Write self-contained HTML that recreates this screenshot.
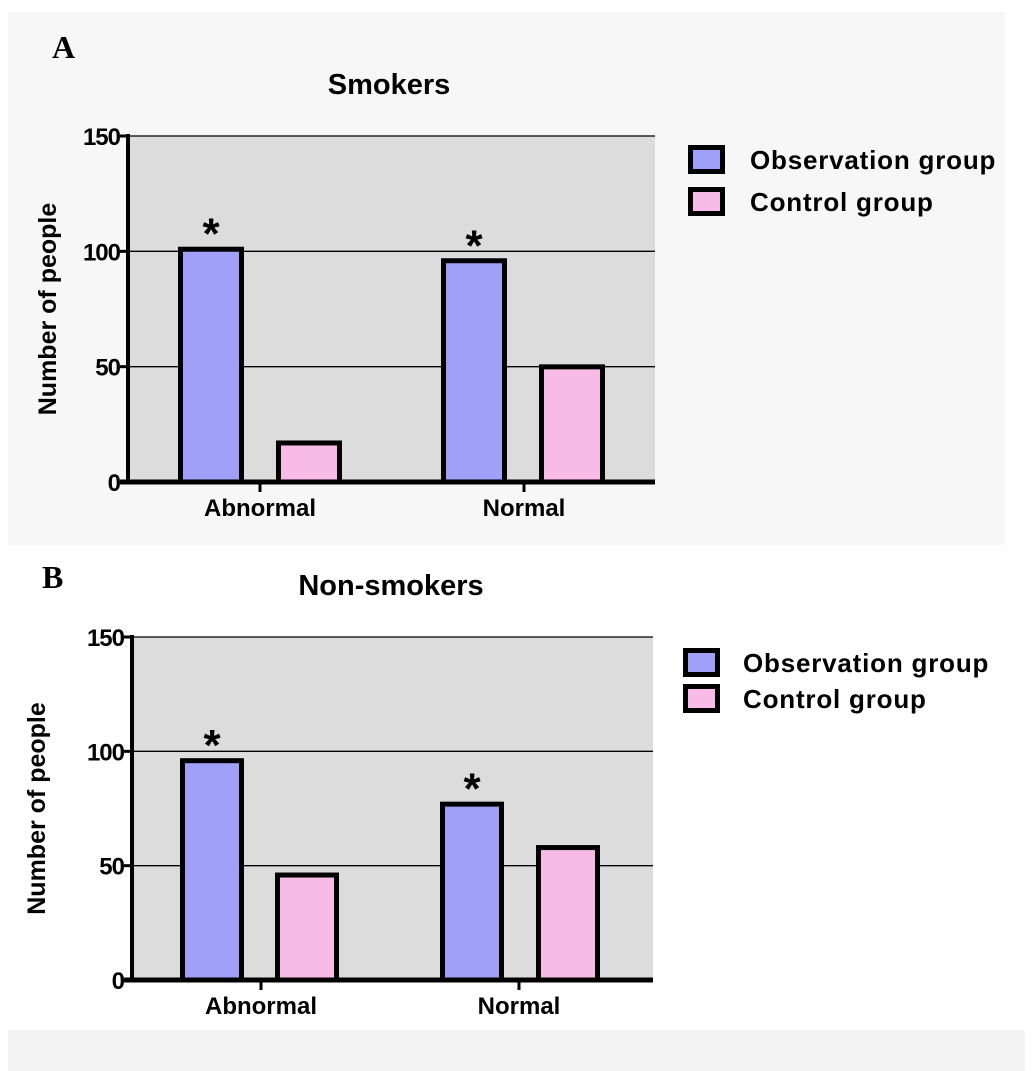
<!DOCTYPE html>
<html><head><meta charset="utf-8"><style>
html,body{margin:0;padding:0;background:#fff;}
svg{display:block;font-family:"Liberation Sans",Arial,sans-serif;}
</style></head><body>
<svg id="fig" width="1033" height="1071" viewBox="0 0 1033 1071" xmlns="http://www.w3.org/2000/svg">
<rect x="0" y="0" width="1033" height="1071" fill="#fff"/>
<rect x="8" y="12" width="997" height="533" fill="#f7f7f7"/>
<rect x="8" y="548" width="997" height="482" fill="#fff"/>
<rect x="8" y="1030" width="1017" height="41" fill="#f4f4f4"/>
<g id="chartA"></g>
<g id="chartB"></g>
</svg>
<script>
const categories = ["Abnormal", "Normal"];
const seriesNames = ["Observation group", "Control group"];
const smokersObservation = [102, 97];
const smokersControl = [18, 51];
const nonSmokersObservation = [97, 78];
const nonSmokersControl = [47, 59];
const yTicks = [0, 50, 100, 150];
const significant = [true, true];

const NS = "http://www.w3.org/2000/svg";
function mk(parent, tag, attrs, text) {
  const e = document.createElementNS(NS, tag);
  for (const k in attrs) e.setAttribute(k, attrs[k]);
  if (text !== undefined) e.textContent = text;
  parent.appendChild(e);
  return e;
}

function drawPanel(g, cfg, obs, ctrl) {
  const yMax = 150;
  const y = v => cfg.y0 - (v / yMax) * (cfg.y0 - cfg.yTop);
  const bg = mk(g, "rect", {x: cfg.xAxis, y: cfg.yTop, width: cfg.xRight - cfg.xAxis, height: cfg.y0 - cfg.yTop, fill: "#dcdcdc"});
  
  
  yTicks.forEach(t => {
    if (t === 0) return;
    const gl = mk(g, "line", {x1: cfg.xAxis, x2: cfg.xRight, y1: y(t), y2: y(t), stroke: "#000", "stroke-width": 1.3});
    
    
  });
  const seriesVals = [obs, ctrl];
  const colors = ["#a0a0f8", "#f8bbe8"];
  categories.forEach((c, ci) => {
    seriesVals.forEach((vals, si) => {
      const bx = cfg.barX[ci][si];
      const r = mk(g, "rect", {x: bx + 2.5, y: y(vals[ci]) + 2.5, width: cfg.barW - 5, height: cfg.y0 - y(vals[ci]) - 2.5, fill: colors[si], stroke: "#000", "stroke-width": 5});
      
      
    });
    if (significant[ci]) {
      const bx = cfg.barX[ci][0];
      const s = mk(g, "text", {x: bx + cfg.barW / 2, y: y(obs[ci]) + 2, "text-anchor": "middle", "font-size": 44, "font-weight": "bold"}, "*");
      
      
    }
    const cx = cfg.catX[ci];
    mk(g, "line", {x1: cx, x2: cx, y1: cfg.y0, y2: cfg.y0 + 10, stroke: "#000", "stroke-width": 3});
    const lab = mk(g, "text", {x: cx, y: cfg.y0 + 34, "text-anchor": "middle", "font-size": 24, "font-weight": "bold"}, c);
    
    
  });
  const ya = mk(g, "line", {x1: cfg.xAxis, x2: cfg.xAxis, y1: cfg.yTop - 2, y2: cfg.y0 + 2, stroke: "#000", "stroke-width": 4});
  
  
  const xa = mk(g, "line", {x1: cfg.xAxis - 8, x2: cfg.xRight, y1: cfg.y0, y2: cfg.y0, stroke: "#000", "stroke-width": 5});
  
  
  yTicks.forEach(t => {
    mk(g, "line", {x1: cfg.xAxis - 8, x2: cfg.xAxis, y1: y(t), y2: y(t), stroke: "#000", "stroke-width": 3});
    const tl = mk(g, "text", {x: cfg.xAxis - 8, y: y(t) + 9, "text-anchor": "end", "font-size": 24, "font-weight": "bold", "letter-spacing": "-1"}, String(t));
    
    
  });
  const yt = mk(g, "text", {x: 0, y: 0, transform: `translate(${cfg.yTitleX},${(cfg.yTop + cfg.y0) / 2}) rotate(-90)`, "text-anchor": "middle", "font-size": 25, "font-weight": "bold"}, "Number of people");
  
  
  const tt = mk(g, "text", {x: cfg.titleX, y: cfg.titleY, "text-anchor": "middle", "font-size": 29, "font-weight": "bold"}, cfg.title);
  
  
  const pl = mk(g, "text", {x: cfg.letterX, y: cfg.letterY, "font-family": "Liberation Serif, serif", "font-size": 32, "font-weight": "bold"}, cfg.letter);
  
  
  seriesNames.forEach((n, i) => {
    const ly = cfg.legY[i];
    const lb = mk(g, "rect", {x: cfg.legX + 2.5, y: ly + 2.5, width: 32, height: 24, fill: colors[i], stroke: "#000", "stroke-width": 5});
    
    
    const lt = mk(g, "text", {x: cfg.legTextX, y: ly + 24, "font-size": 26, "font-weight": "bold", "letter-spacing": "0.8"}, n);
    
    
  });
}

drawPanel(document.getElementById("chartA"), {
  xAxis: 128, xRight: 655, yTop: 136, y0: 482, barW: 66,
  barX: [[178, 276], [441, 539]], catX: [260, 524],
  yTitleX: 56, title: "Smokers", titleX: 389, titleY: 94,
  letter: "A", letterX: 52, letterY: 58,
  legX: 688, legY: [145, 187], legTextX: 750
}, smokersObservation, smokersControl);

drawPanel(document.getElementById("chartB"), {
  xAxis: 132, xRight: 653, yTop: 637, y0: 980, barW: 64,
  barX: [[180, 275], [440, 536]], catX: [261, 519],
  yTitleX: 45, title: "Non-smokers", titleX: 391, titleY: 595,
  letter: "B", letterX: 42, letterY: 588,
  legX: 683, legY: [648, 684], legTextX: 743
}, nonSmokersObservation, nonSmokersControl);
</script>
</body></html>
